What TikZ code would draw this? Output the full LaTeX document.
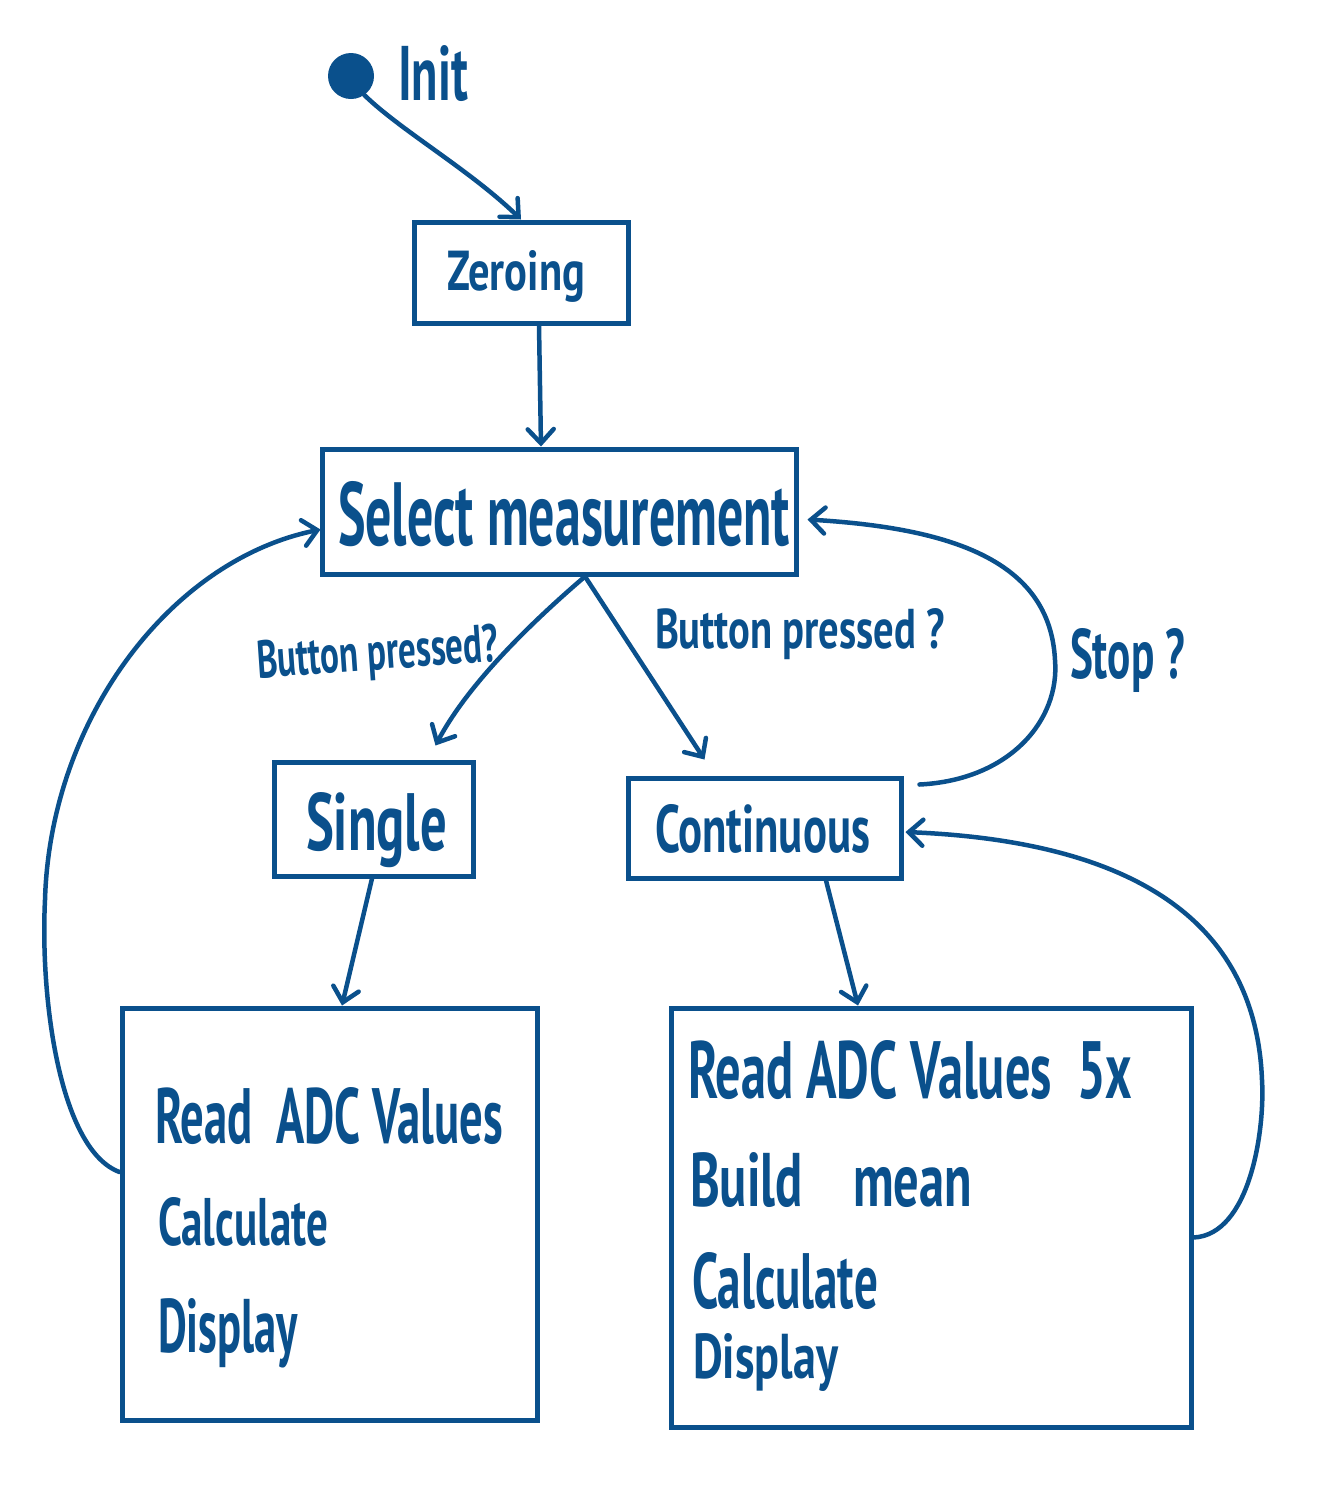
\documentclass[tikz,border=0pt]{standalone}
\usepackage{fontspec}
\usepackage{graphicx}
\setmainfont{PT Sans}
\usetikzlibrary{arrows.meta}
\definecolor{ink}{RGB}{10,80,140}
\newcommand\hwtext[3]{\resizebox{#1pt}{#2pt}{\bfseries #3}}
\begin{document}
\begin{tikzpicture}[x=1pt,y=-1pt,
  every path/.style={ink},
  statebox/.style={draw=ink,line width=5pt,minimum width=#1,inner sep=0pt,rectangle},
  lbl/.style={inner sep=0pt,outer sep=0pt,anchor=base west,text=ink},
  arr/.style={draw=ink,line width=4.5pt,line cap=round,-{Straight Barb[length=14pt,width=26pt,line cap=round]}}]
\useasboundingbox (0,0) rectangle (1332,1508);
\fill[white] (0,0) rectangle (1332,1508);

% start dot
\node[circle,fill=ink,minimum size=46pt,inner sep=0pt] (init) at (351,76) {};
\node[lbl] (tinit) at (398,100) {\hwtext{70}{55}{Init}};

% boxes
\node[statebox=214pt,minimum height=101pt] (zero) at (521,272.5) {};
\node[statebox=474pt,minimum height=125pt] (sel) at (559,511.5) {};
\node[statebox=199pt,minimum height=114pt] (single) at (373.5,819) {};
\node[statebox=273pt,minimum height=100pt] (cont) at (764.5,828) {};
\node[statebox=415pt,minimum height=412pt] (lbox) at (329.5,1214) {};
\node[statebox=520pt,minimum height=419pt] (rbox) at (931,1217.5) {};

% box texts
\node[lbl] (tzero) at (447,290) {\hwtext{138}{40}{Zeroing}};
\node[lbl] (tsel) at (338,545) {\hwtext{452}{64}{Select measurement}};
\node[lbl] (tsingle) at (306,850) {\hwtext{141}{58}{Single}};
\node[lbl] (tcont) at (655,852) {\hwtext{215}{48}{Continuous}};

\node[lbl] (l1) at (155,1143) {\hwtext{348}{56}{Read\enspace ADC Values}};
\node[lbl] (l2) at (158,1245) {\hwtext{170}{48}{Calculate}};
\node[lbl] (l3) at (158,1352) {\hwtext{140}{54}{Display}};

\node[lbl] (r1) at (688,1098) {\hwtext{444}{58}{Read ADC Values\enspace 5x}};
\node[lbl] (r2) at (690,1206) {\hwtext{282}{54}{Build\quad mean}};
\node[lbl] (r3) at (692,1308) {\hwtext{186}{56}{Calculate}};
\node[lbl] (r4) at (693,1378) {\hwtext{145}{45}{Display}};

% transition labels
\node[lbl,rotate=4] (bp1) at (258,678) {\hwtext{242}{38}{Button pressed?}};
\node[lbl] (bp2) at (655,648) {\hwtext{290}{40}{Button pressed ?}};
\node[lbl] (stop) at (1070,678) {\hwtext{115}{50}{Stop ?}};

% connectors
\draw[arr] (init.-55) .. controls (400,130) and (470,170) .. (zero.north);
\draw[arr] ([xshift=18pt]zero.south) -- ([xshift=-18pt]sel.north);
\draw[arr] ([xshift=26pt]sel.south) .. controls (540,615) and (470,680) .. ([xshift=62pt,yshift=14pt]single.north);
\draw[arr] ([xshift=26pt]sel.south) -- ([xshift=-60pt,yshift=16pt]cont.north);
\draw[arr] ([xshift=16pt,yshift=-9pt]cont.north east) .. controls (1010,780) and (1060,720) .. (1055,660)
   .. controls (1050,560) and (950,528) .. ([xshift=9pt,yshift=-8pt]sel.east);
\draw[arr] ([xshift=-1.5pt]single.south) -- ([xshift=12.5pt]lbox.north);
\draw[arr] ([xshift=61.5pt]cont.south) -- ([xshift=-73pt]rbox.north);
\draw[arr] ([yshift=42pt]lbox.west) .. controls (60,1150) and (40,1000) .. (45,900)
   .. controls (50,720) and (170,560) .. ([xshift=1pt,yshift=-18pt]sel.west);
\draw[arr] ([yshift=-20pt]rbox.east) .. controls (1250,1235) and (1265,1130) .. (1262,1080)
   .. controls (1255,900) and (1100,840) .. ([xshift=2pt,yshift=-4pt]cont.east);
\end{tikzpicture}
\end{document}
